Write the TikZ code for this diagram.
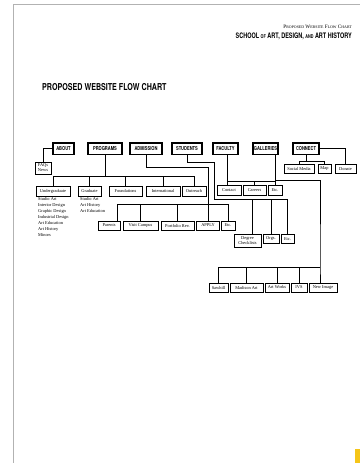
\documentclass[tikz,border=0pt]{standalone}
\usepackage{fontspec}
\setmainfont{Liberation Serif}
\newfontfamily\headfont[FakeStretch=0.75]{TeX Gyre Heros}
\newfontfamily\schfont[FakeStretch=0.72]{TeX Gyre Heros}
\usetikzlibrary{arrows.meta,positioning}
\definecolor{tabgold}{HTML}{F5C518}
\newcommand{\fsc}[2]{#1{\fontsize{3.9}{5}\selectfont #2}}
\tikzset{
  topbox/.style ={draw, line width=1.1pt, inner sep=0pt, minimum height=11.5pt,
                  font=\headfont\bfseries\fontsize{5.4}{6}\selectfont},
  subbox/.style ={draw, line width=0.75pt, inner sep=0pt, minimum height=9pt,
                  align=center, font=\fontsize{4.4}{5}\selectfont},
  link/.style   ={line width=0.9pt, line cap=rect},
  lst/.style    ={align=left, inner sep=0pt, font=\fontsize{4.4}{6}\selectfont},
  edge/.style   ={line width=0.6pt, black!30},
}
\begin{document}
\begin{tikzpicture}[x=1pt,y=-1pt]
\useasboundingbox (0,0) rectangle (360,463);
\coordinate (pgtop) at (13,4.5);
\coordinate (pgbot) at (13,463);
\coordinate (pgright) at (360,4.5);
\draw[edge] (pgbot) -- (pgtop) -- (pgright);
\node[anchor=base east, inner sep=0pt, font=\fontsize{5.2}{6}\selectfont]
  (sub) at (352,28.5) {\fsc{P}{ROPOSED} \fsc{W}{EBSITE} \fsc{F}{LOW} \fsc{C}{HART}};
\node[anchor=base east, inner sep=0pt, font=\schfont\bfseries\fontsize{7.6}{9}\selectfont]
  (school) at (352,38)
  {SCHOOL {\fontsize{5.2}{6}\selectfont OF} ART, DESIGN, {\fontsize{5.2}{6}\selectfont AND} ART HISTORY};
\node[anchor=base west, inner sep=0pt, font=\headfont\bfseries\fontsize{9.5}{10}\selectfont]
  (title) at (42,90.7) {PROPOSED WEBSITE FLOW CHART};
\node[topbox, minimum width=21pt] (about)     at (63.5,148.75)  {ABOUT};
\node[topbox, minimum width=34pt] (programs)  at (105,148.75)   {PROGRAMS};
\node[topbox, minimum width=32pt] (admission) at (146,148.75)   {ADMISSION};
\node[topbox, minimum width=30pt] (students)  at (187,148.75)   {STUDENTS};
\node[topbox, minimum width=25pt] (faculty)   at (225.5,148.75) {FACULTY};
\node[topbox, minimum width=25pt] (galleries) at (265.5,148.75) {GALLERIES};
\node[topbox, minimum width=26pt] (connect)   at (306,148.75)   {CONNECT};
\node[subbox, minimum width=16pt, minimum height=12pt] (faqs) at (43,168) {FAQs\\News};
\node[subbox, minimum width=30pt, minimum height=8.5pt] (social) at (299,168.75)   {Social Media};
\node[subbox, minimum width=13pt, minimum height=8.5pt] (map)    at (324.5,168.75) {Map};
\node[subbox, minimum width=21pt, minimum height=8.5pt] (donate) at (345.5,168.75) {Donate};
\node[subbox, minimum width=34pt, minimum height=10pt] (ugrad)    at (53,191)    {Undergraduate};
\node[subbox, minimum width=23pt, minimum height=10pt] (grad)     at (89.5,191)  {Graduate};
\node[subbox, minimum width=33pt, minimum height=10pt] (found)    at (125.5,191) {Foundations};
\node[subbox, minimum width=34pt, minimum height=10pt] (intl)     at (163,191)   {International};
\node[subbox, minimum width=24pt, minimum height=10pt] (outreach) at (194,191)   {Outreach};
\node[lst, anchor=north west] (uglist) at (38,197.5)
  {Studio Art\\Interior Design\\Graphic Design\\Industrial Design\\Art Education\\Art History\\Minors};
\node[lst, anchor=north west] (grlist) at (80,197.5)
  {Studio Art\\Art History\\Art Education};
\node[subbox, minimum width=24pt, minimum height=10pt] (contact) at (229,190)   {Contact};
\node[subbox, minimum width=23pt, minimum height=10pt] (careers) at (254.5,190) {Careers};
\node[subbox, minimum width=14pt, minimum height=10pt] (etcF)    at (275,190)   {Etc.};
\node[subbox, minimum width=22pt] (parents)   at (109,225.5)   {Parents};
\node[subbox, minimum width=35pt] (visit)     at (140.5,225.5) {Visit Campus};
\node[subbox, minimum width=33pt] (portfolio) at (177.5,225.5) {Portfolio Rev.};
\node[subbox, minimum width=23pt] (apply)     at (208,225.5)   {APPLY};
\node[subbox, minimum width=14pt] (etcA)      at (228,225.5)   {Etc.};
\node[subbox, anchor=north, minimum width=27pt, minimum height=13.5pt] (degree) at (247.5,233.5) {Degree\\Checklists};
\node[subbox, anchor=north, minimum width=16pt, minimum height=9.5pt]  (orgs)   at (271,233.5)   {Orgs.};
\node[subbox, anchor=north, minimum width=13pt, minimum height=9.5pt]  (etcS)   at (287.5,233.5) {Etc.};
\node[subbox, minimum width=19pt] (sawhill)  at (218.5,287.5) {Sawhill};
\node[subbox, minimum width=33pt] (madison)  at (246.5,287.5) {Madison Art};
\node[subbox, minimum width=24pt] (artworks) at (277,287.5)   {Art Works};
\node[subbox, minimum width=16pt] (ivs)      at (299,287.5)   {IVS};
\node[subbox, minimum width=28pt] (newimg)   at (323,287.5)   {New Image};
\draw[link] (about.west) -| (faqs.north);
\coordinate (pbus) at (105,176.5);
\draw[link] (programs.south) -- (pbus);
\draw[link] (ugrad.north) |- (pbus) -| (outreach.north);
\foreach \n in {grad,found,intl}
  \draw[link] (\n.north) -- (\n.north |- pbus);
\coordinate (aturn) at (208,167);
\coordinate (abus) at (117,204);
\draw[link] (admission.south) |- (aturn) -- (apply.north);
\draw[link] (parents.north -| abus) -- (abus) -| (etcA.north);
\foreach \n in {visit,portfolio}
  \draw[link] (\n.north) -- (\n.north |- abus);
\coordinate (sturn) at (214,162);
\coordinate (sbus) at (214,199.5);
\coordinate (ddrop) at (252.5,199.5);
\draw[link] (students.south) |- (sturn) -- (sbus) -| (etcS.north);
\draw[link] (ddrop) -- (ddrop |- degree.north);
\draw[link] (orgs.north) -- (orgs.north |- sbus);
\coordinate (fbus) at (227.5,181.5);
\draw[link] (faculty.south -| fbus) -- (fbus) -| (etcF.north);
\draw[link] (fbus) -- (fbus |- contact.north);
\draw[link] (careers.north) -- (careers.north |- fbus);
\coordinate (gcorner) at (275,180);
\coordinate (gbus) at (320,267);
\draw[link] (galleries.south -| gcorner) -- (gcorner) -| (gbus) -- (gbus |- newimg.north);
\draw[link] (sawhill.north) |- (gbus);
\foreach \n in {madison,artworks,ivs}
  \draw[link] (\n.north) -- (\n.north |- gbus);
\coordinate (cbus) at (306,161.5);
\draw[link] (connect.east) -| (donate.north);
\draw[link] (connect.south) -- (cbus);
\draw[link] (social.north) |- (cbus) -| (map.north);
\fill[tabgold] (355,448.5) rectangle (360,463);
\end{tikzpicture}
\end{document}
